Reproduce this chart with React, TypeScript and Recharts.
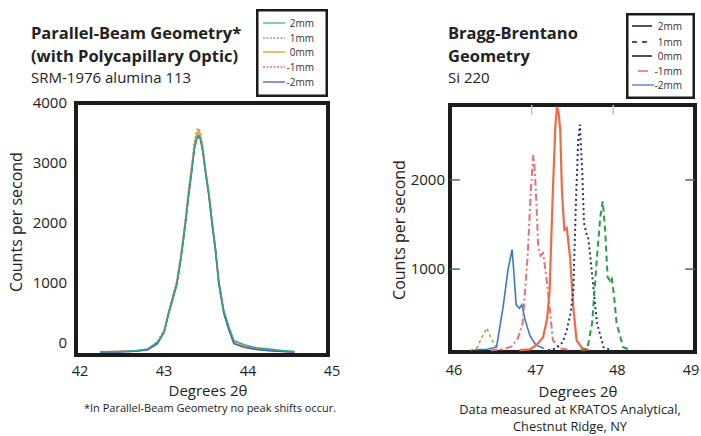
import React from 'react'
import { LineChart, Line, XAxis, YAxis, ReferenceArea, ReferenceLine } from 'recharts'

// ---- left panel: Parallel-Beam, SRM-1976 alumina 113 ----
const leftDomainX = [42, 45]
const leftDomainY = [-200, 4000]
const leftTicksX = [42, 43, 44, 45]
const leftTicksY = [0, 1000, 2000, 3000, 4000]
const leftAngles = [42.29, 42.5, 42.7, 42.85, 42.97, 43.05, 43.1, 43.15, 43.2, 43.25, 43.3, 43.34, 43.38, 43.41, 43.44, 43.46, 43.48, 43.51, 43.54, 43.58, 43.62, 43.66, 43.7, 43.76, 43.82, 43.88, 44.0, 44.15, 44.3, 44.45, 44.6]
const left2mm = [-145, -140, -130, -105, 10, 190, 480, 730, 980, 1420, 1960, 2460, 2900, 3250, 3430, 3460, 3420, 3200, 2880, 2520, 2030, 1590, 1040, 540, 270, 40, -30, -80, -100, -125, -140]
const left1mm = [-150, -145, -138, -112, -5, 195, 490, 740, 990, 1440, 1990, 2490, 2920, 3270, 3460, 3490, 3440, 3210, 2880, 2500, 2000, 1560, 1010, 510, 240, 10, -55, -95, -118, -132, -148]
const left0mm = [-150, -145, -135, -110, 0, 200, 500, 750, 1000, 1450, 2000, 2500, 2940, 3300, 3500, 3530, 3470, 3230, 2890, 2500, 2000, 1550, 1000, 500, 230, 0, -60, -100, -120, -135, -150]
const leftM1mm = [-148, -142, -132, -100, 20, 220, 530, 780, 1040, 1490, 2050, 2560, 3000, 3360, 3550, 3580, 3510, 3260, 2920, 2520, 2010, 1560, 1000, 500, 230, 0, -65, -105, -125, -138, -150]
const leftM2mm = [-152, -148, -138, -115, -10, 180, 470, 720, 970, 1410, 1950, 2440, 2880, 3230, 3410, 3440, 3400, 3180, 2850, 2470, 1980, 1540, 990, 490, 220, -10, -70, -110, -128, -140, -152]

// ---- right panel: Bragg-Brentano, Si 220 ----
const rightDomainX = [46, 49]
const rightDomainY = [70, 2840]
const rightTicksX = [46, 47, 48, 49]
const rightTicksY = [1000, 2000]
const rightTopTicks = [47, 48]
const rAnglesM2 = [46.3, 46.45, 46.57, 46.65, 46.71, 46.76, 46.78, 46.81, 46.85, 46.88, 46.92, 46.98, 47.05, 47.15]
const rCountsM2 = [95, 100, 124, 573, 990, 1220, 990, 600, 560, 600, 430, 250, 150, 110]
const rAnglesM1 = [46.5, 46.65, 46.75, 46.83, 46.89, 46.95, 46.99, 47.02, 47.04, 47.06, 47.08, 47.11, 47.14, 47.18, 47.22, 47.26, 47.35, 47.45]
const rCountsM1 = [90, 100, 130, 220, 393, 1135, 1890, 2280, 2080, 1700, 1250, 1150, 1180, 910, 573, 200, 110, 95]
const rAngles0 = [46.85, 46.98, 47.06, 47.14, 47.19, 47.22, 47.26, 47.29, 47.31, 47.33, 47.35, 47.37, 47.4, 47.43, 47.47, 47.51, 47.55, 47.62, 47.7]
const rCounts0 = [90, 100, 150, 236, 450, 764, 1890, 2600, 2820, 2750, 2560, 1890, 1440, 1460, 1135, 573, 200, 110, 95]
const rAngles1 = [47.2, 47.3, 47.38, 47.43, 47.48, 47.51, 47.54, 47.57, 47.59, 47.62, 47.64, 47.67, 47.69, 47.71, 47.75, 47.8, 47.88, 47.96]
const rCounts1 = [90, 110, 180, 315, 520, 764, 1700, 2450, 2620, 2080, 1520, 1400, 1360, 1210, 843, 393, 124, 95]
const rAngles2 = [47.6, 47.68, 47.74, 47.8, 47.84, 47.87, 47.9, 47.93, 47.96, 47.98, 48.01, 48.04, 48.12, 48.2]
const rCounts2 = [90, 100, 393, 1135, 1584, 1760, 1440, 910, 870, 910, 685, 393, 124, 95]
const rAnglesBump = [46.25, 46.33, 46.4, 46.45, 46.5, 46.56, 46.62]
const rCountsBump = [90, 120, 250, 340, 230, 130, 100]

const legendLabels = ['2mm', '1mm', '0mm', '-1mm', '-2mm']

const toRows = (angles: number[], counts: number[]) => angles.map((a, i) => ({ a, c: counts[i] }))

const leftRows = leftAngles.map((a, i) => ({
  a,
  p2: left2mm[i],
  p1: left1mm[i],
  z: left0mm[i],
  m1: leftM1mm[i],
  m2: leftM2mm[i],
}))

const FONT = '"Open Sans", sans-serif'
const INK = '#222'
const FRAME = '#1c1c1c'
const TICK = '#3f6f78'
const tickStyle = { fill: INK, fontSize: 15, fontFamily: FONT }
// inward tick length of the right panel, in data units
const TICK_DX = 0.12
const TICK_DY = 110

// x tick that sits a few px right of the frame position and never runs off the page
const XTick = ({ x, y, payload, maxX }: any) => (
  <text x={Math.min(x + 4, maxX)} y={y} dy="0.71em" textAnchor="middle" fontSize={14.5} fontFamily={FONT} fill={INK}>
    {payload.value}
  </text>
)

type LegendItem = { color: string; dash?: string; x1: number; x2: number; width?: number }

const leftLegend: LegendItem[] = [
  { color: '#5cc08c', x1: 7, x2: 29 },
  { color: '#9a9aa8', dash: '2 1.5', x1: 7, x2: 29 },
  { color: '#f2a648', x1: 7, x2: 29 },
  { color: '#d07a70', dash: '2 1.5', x1: 7, x2: 29 },
  { color: '#6070c8', x1: 7, x2: 29 },
]
const rightLegend: LegendItem[] = [
  { color: '#1a1a1a', x1: 6, x2: 26 },
  { color: '#505088', dash: '5 5', x1: 6, x2: 26, width: 2 },
  { color: '#1a1a1a', x1: 6, x2: 26 },
  { color: '#ec8aa0', x1: 12, x2: 22, width: 2 },
  { color: '#88a8e0', x1: 6, x2: 28, width: 2 },
]

const LegendBox = ({ items, left, top, w, h, rows, textX }: any) => (
  <svg width={w} height={h} style={{ position: 'absolute', left, top }}>
    <rect x={1.25} y={1.25} width={w - 2.5} height={h - 2.5} fill="#fff" stroke={FRAME} strokeWidth={2.5} />
    {items.map((it: LegendItem, i: number) => (
      <g key={i}>
        <line x1={it.x1} x2={it.x2} y1={rows[i]} y2={rows[i]} stroke={it.color} strokeWidth={it.width || 1.5} strokeDasharray={it.dash} />
        <text x={textX} y={rows[i]} dy="0.35em" textAnchor="end" fontSize={10} fontFamily={FONT} fill="#333">
          {legendLabels[i]}
        </text>
      </g>
    ))}
  </svg>
)

const abs = (left: number, top: number, extra?: any) => ({ position: 'absolute' as const, left, top, ...extra })

const YTitle = ({ cx, cy }: { cx: number; cy: number }) => (
  <div style={abs(cx - 100, cy - 11, { width: 200, height: 22, lineHeight: '22px', textAlign: 'center', fontSize: 16, transform: 'rotate(-90deg)' })}>
    Counts per second
  </div>
)

export default function App() {
  const [x0, x1] = rightDomainX
  const [y0, y1] = rightDomainY
  return (
    <div style={{ position: 'absolute', left: 0, top: 0, width: 701, height: 436, background: '#fff', fontFamily: FONT, color: INK, overflow: 'hidden' }}>
      {/* titles */}
      <div style={abs(31, 21, { fontWeight: 700, fontSize: 16.5, lineHeight: '23px' })}>
        Parallel-Beam Geometry*<br />(with Polycapillary Optic)
      </div>
      <div style={abs(31, 67, { fontSize: 15, lineHeight: '21px' })}>SRM-1976 alumina 113</div>
      <div style={abs(448, 21, { fontWeight: 700, fontSize: 16.5, lineHeight: '23px' })}>
        Bragg-Brentano<br />Geometry
      </div>
      <div style={abs(448, 67, { fontSize: 15, lineHeight: '21px' })}>Si 220</div>

      {/* left chart */}
      <div style={abs(0, 0)}>
        <LineChart width={340} height={436} data={leftRows} margin={{ top: 103, right: 12, bottom: 0, left: 0 }}>
          <XAxis dataKey="a" type="number" domain={leftDomainX} ticks={leftTicksX} interval={0} height={81} axisLine={false} tickLine={false} tickSize={0} tickMargin={11} tick={<XTick maxX={335} />} allowDataOverflow />
          <YAxis type="number" domain={leftDomainY} ticks={leftTicksY} interval={0} width={76} axisLine={false} tickLine={false} tickSize={0} tickMargin={9} tick={tickStyle} allowDataOverflow />
          <Line dataKey="p1" stroke="#8a8aa0" strokeWidth={1.5} strokeDasharray="2 2" dot={false} isAnimationActive={false} />
          <Line dataKey="m1" stroke="#d8605a" strokeWidth={1.5} strokeDasharray="2 2" dot={false} isAnimationActive={false} />
          <Line dataKey="z" stroke="#f2a043" strokeWidth={1.8} dot={false} isAnimationActive={false} />
          <Line dataKey="m2" stroke="#4a5cc0" strokeWidth={1.5} dot={false} isAnimationActive={false} />
          <Line dataKey="p2" stroke="#2fa887" strokeWidth={1.5} dot={false} isAnimationActive={false} />
          <ReferenceArea x1={leftDomainX[0]} x2={leftDomainX[1]} y1={leftDomainY[0]} y2={leftDomainY[1]} fill="none" stroke={FRAME} strokeWidth={4} ifOverflow="visible" />
        </LineChart>
      </div>

      {/* right chart */}
      <div style={abs(360, 0)}>
        <LineChart width={341} height={436} margin={{ top: 105, right: 6, bottom: 0, left: 0 }}>
          <XAxis dataKey="a" type="number" domain={rightDomainX} ticks={rightTicksX} interval={0} height={84} axisLine={false} tickLine={false} tickSize={0} tickMargin={13} tick={<XTick maxX={331} />} allowDataOverflow />
          <YAxis type="number" domain={rightDomainY} ticks={rightTicksY} interval={0} width={90} axisLine={false} tickLine={false} tickSize={0} tickMargin={5} tick={tickStyle} allowDataOverflow />
          <Line data={toRows(rAnglesBump, rCountsBump)} dataKey="c" stroke="#9aaa30" strokeWidth={1.5} strokeDasharray="3 3" dot={false} isAnimationActive={false} />
          <Line data={toRows(rAnglesM2, rCountsM2)} dataKey="c" stroke="#3a78c8" strokeWidth={1.6} dot={false} isAnimationActive={false} />
          <Line data={toRows(rAnglesM1, rCountsM1)} dataKey="c" stroke="#e8707a" strokeWidth={2} strokeDasharray="7 3 2 3" dot={false} isAnimationActive={false} />
          <Line data={toRows(rAngles0, rCounts0)} dataKey="c" stroke="#f06a45" strokeWidth={2.2} dot={false} isAnimationActive={false} />
          <Line data={toRows(rAngles1, rCounts1)} dataKey="c" stroke="#23307a" strokeWidth={2} strokeDasharray="2 3" dot={false} isAnimationActive={false} />
          <Line data={toRows(rAngles2, rCounts2)} dataKey="c" stroke="#2a9a4a" strokeWidth={2} strokeDasharray="6 4" dot={false} isAnimationActive={false} />
          {rightTicksY.map((v) => (
            <ReferenceLine key={`l${v}`} segment={[{ x: x0, y: v }, { x: x0 + TICK_DX, y: v }]} stroke={TICK} strokeWidth={1.5} ifOverflow="visible" />
          ))}
          {rightTicksY.map((v) => (
            <ReferenceLine key={`r${v}`} segment={[{ x: x1 - TICK_DX, y: v }, { x: x1, y: v }]} stroke={TICK} strokeWidth={1.5} ifOverflow="visible" />
          ))}
          {rightTopTicks.map((v) => (
            <ReferenceLine key={`t${v}`} segment={[{ x: v, y: y1 - TICK_DY }, { x: v, y: y1 }]} stroke="#cbbfc4" strokeWidth={1.5} ifOverflow="visible" />
          ))}
          <ReferenceArea x1={x0} x2={x1} y1={y0} y2={y1} fill="none" stroke={FRAME} strokeWidth={4} ifOverflow="visible" />
        </LineChart>
      </div>

      {/* legends */}
      <LegendBox items={leftLegend} left={256} top={9} w={72} h={88} rows={[14, 29, 43, 58, 73]} textX={58} />
      <LegendBox items={rightLegend} left={626} top={13} w={69} h={86} rows={[13, 29, 43, 58, 72]} textX={56} />

      {/* axis titles and notes */}
      <YTitle cx={16} cy={222} />
      <YTitle cx={399} cy={230} />
      <div style={abs(108, 381, { width: 200, textAlign: 'center', fontSize: 15, lineHeight: '18px' })}>Degrees 2θ</div>
      <div style={abs(478, 382, { width: 200, textAlign: 'center', fontSize: 15, lineHeight: '18px' })}>Degrees 2θ</div>
      <div style={abs(35, 400, { width: 350, textAlign: 'center', fontSize: 11, lineHeight: '15px' })}>
        *In Parallel-Beam Geometry no peak shifts occur.
      </div>
      <div style={abs(420, 401, { width: 300, textAlign: 'center', fontSize: 12.8, lineHeight: '17px' })}>
        Data measured at KRATOS Analytical,<br />Chestnut Ridge, NY
      </div>
    </div>
  )
}
